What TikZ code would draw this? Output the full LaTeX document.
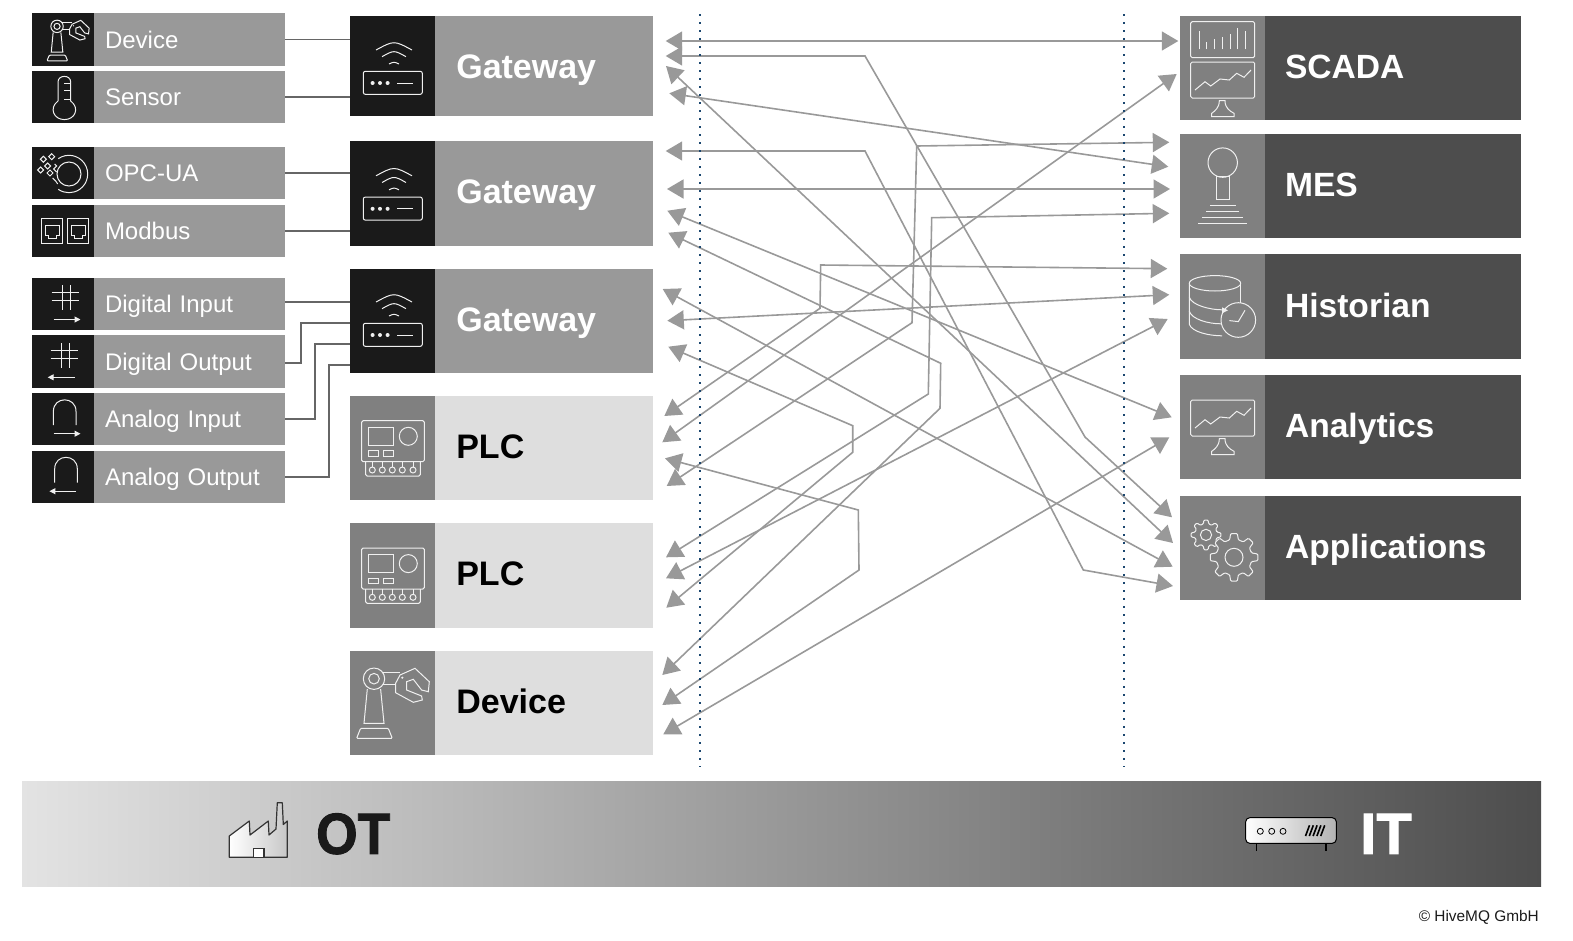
\documentclass[tikz,border=0pt]{standalone}
\usepackage{fontspec}
\setmainfont{Liberation Sans}
\newfontfamily\heavyfont[BoldFeatures={FakeBold=1.6}]{Liberation Sans}
\usetikzlibrary{positioning,arrows.meta}

\definecolor{cellblack}{HTML}{1A1A1A}
\definecolor{cellmid}{HTML}{999999}
\definecolor{celllight}{HTML}{DEDEDE}
\definecolor{celliconc}{HTML}{808080}
\definecolor{celldark}{HTML}{4D4D4D}
\definecolor{stubgray}{HTML}{666666}
\definecolor{dotblue}{HTML}{1B4770}
\definecolor{icon}{HTML}{F0F0F0}

\tikzset{
  iconcell/.style={anchor=north west,inner sep=0pt,outer sep=0pt,minimum height=#1},
  smallicon/.style={iconcell=52.4pt,fill=cellblack,minimum width=62.3pt},
  smalllabel/.style={fill=cellmid,text=white,minimum height=52.4pt,minimum width=191.3pt,
    inner xsep=11pt,inner ysep=0pt,outer sep=0pt,text width=169.3pt,text height=17pt,text depth=0pt,
    font=\fontsize{24}{28}\selectfont},
  midicon/.style={iconcell=#1,minimum width=85pt},
  midlabel/.style={minimum height=#1,minimum width=217.7pt,inner xsep=21pt,inner ysep=0pt,outer sep=0pt,
    text width=175.7pt,text height=25pt,text depth=4pt,font=\fontsize{34}{38}\selectfont\bfseries},
  itlabel/.style={fill=celldark,text=white,minimum height=#1,minimum width=256pt,inner xsep=20pt,
    inner ysep=0pt,outer sep=0pt,text width=216pt,text height=25pt,text depth=4pt,
    font=\fontsize{33.6}{38}\selectfont\bfseries},
  stub/.style={draw=stubgray,line width=1.7pt},
  link/.style={draw=cellmid,line width=1.6pt,
    {Triangle[length=16.5pt,width=19pt]}-{Triangle[length=16.5pt,width=19pt]}},
  zone/.style={draw=dotblue,line width=1.8pt,dash pattern=on 1.8pt off 6.2pt},
  iconline/.style={draw=icon,line width=1pt},
  routericon/.pic={
    \draw[iconline,rounded corners=2pt] (13,55.3) rectangle (72,78.3);
    \fill[icon] (22.3,67) circle (2) (29.7,67) circle (2) (37.3,67) circle (2);
    \draw[iconline] (47,67) -- (62.3,67);
    \draw[iconline] (25.7,34) .. controls (43.7,24.3) .. (61.7,34);
    \draw[iconline] (31.7,40.7) .. controls (43.7,34) .. (55.7,40.7);
    \draw[iconline] (38.7,48) .. controls (43.7,45.7) .. (48.7,48);
  },
  plcicon/.pic={
    \draw[iconline,rounded corners=1.5pt] (11.3,24.7) rectangle (74,65.7);
    \draw[iconline] (18.3,31.3) rectangle (43.3,49);
    \draw[iconline] (58,40.3) circle (9);
    \draw[iconline] (18.3,54.7) rectangle (28.3,60.3);
    \draw[iconline] (33,54.7) rectangle (43.3,60.3);
    \draw[iconline,rounded corners=1.5pt] (15.3,65.7) -- (15.3,80) -- (70,80) -- (70,65.7);
    \foreach \cx in {22,32,42,52,62.7} {
      \draw[iconline] (\cx,74) circle (3);
      \draw[iconline] (\cx,66) -- (\cx,71);
    }
  },
  roboticon/.pic={
    \draw[iconline] (23.7,27.7) circle (10.7);
    \draw[iconline] (23.7,27.7) circle (5.3);
    \draw[iconline] (17,38) -- (13.7,72.3) -- (33.7,72.3) -- (30.3,38);
    \draw[iconline,rounded corners=1pt] (10.3,77.3) -- (6.3,87.3) -- (42,87.3) -- (38,77.3) -- cycle;
    \draw[iconline] (31.3,21.3) -- (49.7,21.3);
    \draw[iconline] (33,33.7) -- (45.3,33.7);
    \draw[iconline] (45.3,32.3) -- (49.7,24) -- (64.7,17.3) -- (79,30.7) -- (78,40.7) -- (71.3,39)
      -- (63,28.3) -- (56.3,30.7) -- (56.3,39) -- (71.3,45) -- (72,49) -- (63,51.3) -- (45.3,41.7) -- cycle;
    \fill[icon] (52,26.7) circle (1.2);
  },
  monitoricon/.pic={
    \draw[iconline,rounded corners=1.5pt] (0,0) rectangle (64,36);
    \draw[iconline] (4.3,28) -- (14.3,19.7) -- (20,24) -- (29.3,17) -- (38.6,18) -- (46,11.3) -- (53.3,15.3) -- (60.3,8);
    \draw[iconline] (28.6,38.7) .. controls (28.6,46) and (24,49) .. (21,51.3) -- (21,54.7) -- (43.3,54.7) -- (43.3,51.3)
      .. controls (39,49) and (34.3,46) .. (34.3,38.7) -- cycle;
  },
  gearicon/.pic={
    \draw[iconline,fill=celliconc,rounded corners=1pt] (-14:18)
      \foreach \a in {0,45,...,315} { -- (\a-14:18) -- (\a-8:24) -- (\a+8:24) -- (\a+14:18) } -- cycle;
    \draw[iconline] (0,0) circle (9);
  },
  digiticon/.pic={
    \draw[iconline] (30.3,7.7) -- (30.3,32.7) (39,7.7) -- (39,32.7) (20,15.3) -- (47.7,15.3) (20,23.3) -- (47.7,23.3);
  },
  archicon/.pic={
    \draw[iconline] (21.7,32) -- (21.7,18.3) .. controls (21.7,3) and (44.3,3) .. (44.3,18.3) -- (44.3,32);
  },
  tinyarrow/.style={draw=icon,line width=1pt,-{Triangle[length=6pt,width=6pt]}},
}

\begin{document}
\begin{tikzpicture}[x=1pt,y=-1pt]
  \useasboundingbox (0,0) rectangle (1573,940);

  % field side
  \node[smallicon] (deviceicon) at (31.7,13.3) {};
  \node[smalllabel,right=0pt of deviceicon] (device) {Device};
  \node[smallicon] (sensoricon) at (31.7,71) {};
  \node[smalllabel,right=0pt of sensoricon] (sensor) {Sensor};
  \node[smallicon] (opcicon) at (31.7,147) {};
  \node[smalllabel,right=0pt of opcicon] (opc) {OPC-UA};
  \node[smallicon] (modbusicon) at (31.7,204.5) {};
  \node[smalllabel,right=0pt of modbusicon] (modbus) {Modbus};
  \node[smallicon] (diicon) at (31.7,277.5) {};
  \node[smalllabel,right=0pt of diicon] (di) {Digital Input};
  \node[smallicon] (doicon) at (31.7,335.3) {};
  \node[smalllabel,right=0pt of doicon] (do) {Digital Output};
  \node[smallicon] (aiicon) at (31.7,393) {};
  \node[smalllabel,right=0pt of aiicon] (ai) {Analog Input};
  \node[smallicon] (aoicon) at (31.7,450.5) {};
  \node[smalllabel,right=0pt of aoicon] (ao) {Analog Output};

  % gateways, PLCs and the device
  \node[midicon=100.3pt,fill=cellblack] (gwoneicon) at (350.3,16) {};
  \node[midlabel=100.3pt,fill=cellmid,text=white,text depth=0pt,right=0pt of gwoneicon] (gwone) {Gateway};
  \node[midicon=104.3pt,fill=cellblack] (gwtwoicon) at (350.3,141.3) {};
  \node[midlabel=104.3pt,fill=cellmid,text=white,right=0pt of gwtwoicon] (gwtwo) {Gateway};
  \node[midicon=104.3pt,fill=cellblack] (gwthreeicon) at (350.3,268.7) {};
  \node[midlabel=104.3pt,fill=cellmid,text=white,right=0pt of gwthreeicon] (gwthree) {Gateway};
  \node[midicon=104.3pt,fill=celliconc] (plconeicon) at (350.3,396) {};
  \node[midlabel=104.3pt,fill=celllight,text=black,right=0pt of plconeicon] (plcone) {PLC};
  \node[midicon=104.3pt,fill=celliconc] (plctwoicon) at (350.3,523.3) {};
  \node[midlabel=104.3pt,fill=celllight,text=black,right=0pt of plctwoicon] (plctwo) {PLC};
  \node[midicon=104pt,fill=celliconc] (roboticon) at (350.3,651) {};
  \node[midlabel=104pt,fill=celllight,text=black,right=0pt of roboticon] (robot) {Device};

  % enterprise side
  \node[midicon=104.3pt,fill=celliconc] (scadaicon) at (1180,16) {};
  \node[itlabel=104.3pt,right=0pt of scadaicon] (scada) {SCADA};
  \node[midicon=104pt,fill=celliconc] (mesicon) at (1180,134.3) {};
  \node[itlabel=104pt,right=0pt of mesicon] (mes) {MES};
  \node[midicon=104.6pt,fill=celliconc] (histicon) at (1180,254.3) {};
  \node[itlabel=104.6pt,right=0pt of histicon] (hist) {Historian};
  \node[midicon=104.3pt,fill=celliconc] (analyticsicon) at (1180,375) {};
  \node[itlabel=104.3pt,right=0pt of analyticsicon] (analytics) {Analytics};
  \node[midicon=104pt,fill=celliconc] (appsicon) at (1180,496.3) {};
  \node[itlabel=104pt,right=0pt of appsicon] (apps) {Applications};

  % small icons
  \pic[scale=.58] at (43.3,10.3) {roboticon};
  \begin{scope}[shift={(31.7,71)}]
    \draw[iconline] (26.3,30) -- (26.3,11) .. controls (26.3,3.5) and (39,3.5) .. (39,11) -- (39,30);
    \draw[iconline] (26.3,30) .. controls (17,37) and (22,48.6) .. (32.7,48.6) .. controls (43.4,48.6) and (48.4,37) .. (39,30);
    \draw[iconline] (32.3,12.3) -- (39,12.3) (32.3,19.7) -- (39,19.7) (32.3,28) -- (39,28);
  \end{scope}
  \begin{scope}[shift={(31.7,147)}]
    \draw[iconline] (37.3,27) circle (12);
    \draw[iconline] (37.3,27) ++(-125:18.7) arc (-125:125:18.7);
    \foreach \dx/\dy in {20/9.7,11.7/12.3,16/19,9/23,18.3/26} {
      \draw[iconline] (\dx-3,\dy) -- (\dx,\dy-3) -- (\dx+3,\dy) -- (\dx,\dy+3) -- cycle;
    }
    \draw[iconline] (23,17) -- (25,19) -- (22,22) -- (25,25) (21,31) -- (24,34) -- (26,37);
  \end{scope}
  \begin{scope}[shift={(31.7,204.5)}]
    \foreach \bx in {0,26} {
      \draw[iconline] (10+\bx,13.7) rectangle (31+\bx,38.7);
      \draw[iconline] (13.3+\bx,21.3) -- (27.3+\bx,21.3) -- (27.3+\bx,31) -- (24.3+\bx,31) -- (24.3+\bx,33.7)
        -- (16.7+\bx,33.7) -- (16.7+\bx,31) -- (13.3+\bx,31) -- cycle;
    }
  \end{scope}
  \pic at (31.7,277.5) {digiticon};
  \coordinate (diarrowa) at (53.7,319.5); \coordinate (diarrowb) at (80.5,319.5);
  \draw[tinyarrow] (diarrowa) -- (diarrowb);
  \pic at (30.7,335.3) {digiticon};
  \coordinate (doarrowa) at (75,377.3); \coordinate (doarrowb) at (47.7,377.3);
  \draw[tinyarrow] (doarrowa) -- (doarrowb);
  \pic at (31.7,393) {archicon};
  \coordinate (aiarrowa) at (53.7,433.7); \coordinate (aiarrowb) at (80.5,433.7);
  \draw[tinyarrow] (aiarrowa) -- (aiarrowb);
  \pic at (33,450.5) {archicon};
  \coordinate (aoarrowa) at (76,491.2); \coordinate (aoarrowb) at (49.4,491.2);
  \draw[tinyarrow] (aoarrowa) -- (aoarrowb);

  % icons of the big cells
  \pic at (350.3,16) {routericon};
  \pic at (350.3,141.8) {routericon};
  \pic at (350.3,268) {routericon};
  \pic at (350.3,396) {plcicon};
  \pic at (350.3,523.3) {plcicon};
  \pic at (350.3,651) {roboticon};
  \begin{scope}[shift={(1180,16)}]
    \draw[iconline,rounded corners=1.5pt] (10.7,5.7) rectangle (74.7,41.7);
    \foreach \bx/\by in {19.3/14.7,26.7/25.7,34.3/23.3,42.3/20.7,50.7/18.3,57.7/12.3,65.7/14.7} {
      \draw[iconline] (\bx,33.3) -- (\bx,\by);
    }
  \end{scope}
  \pic at (1190.7,62) {monitoricon};
  \begin{scope}[shift={(1180,134.3)}]
    \draw[iconline] (42.7,28.3) circle (14.7);
    \draw[iconline] (36.7,42.3) rectangle (49,65);
    \draw[iconline] (30,71.3) -- (55.7,71.3) (26,77) -- (59.3,77) (22.3,83) -- (63.3,83) (18.3,89.3) -- (67.3,89.3);
  \end{scope}
  \begin{scope}[shift={(1180,254.3)}]
    \draw[iconline] (35,29) circle [x radius=25.7,y radius=7.7];
    \draw[iconline] (9.3,29) -- (9.3,70) .. controls (12,78) and (30,81.5) .. (42,81.5);
    \draw[iconline] (60.7,29) -- (60.7,49);
    \draw[iconline] (9.3,43) .. controls (12,51) and (30,55.5) .. (42,55.5);
    \draw[iconline] (9.3,57) .. controls (12,65) and (28,69.5) .. (41,69.5);
    \fill[icon] (48,56) -- (42,53) -- (42,59) -- cycle;
    \draw[iconline] (58.3,65.7) circle (17.3);
    \draw[iconline] (49.3,66.3) -- (58.3,67.3) -- (65,56);
  \end{scope}
  \pic at (1190.7,400) {monitoricon};
  \pic[scale=.625] at (1206,534.9) {gearicon};
  \pic at (1234,557.3) {gearicon};

  % connectors of the field side
  \coordinate (gwportdi) at (350.3,302);
  \coordinate (gwportdo) at (350.3,322.7);
  \coordinate (gwportai) at (350.3,344.3);
  \coordinate (gwportao) at (350.3,365);
  \coordinate (dioutlet) at (285.3,302);
  \coordinate (dooutlet) at (285.3,363.3);
  \draw[stub] (device.east) -- (device.east -| gwoneicon.west);
  \draw[stub] (sensor.east) -- (sensor.east -| gwoneicon.west);
  \draw[stub] (opc.east) -- (opc.east -| gwtwoicon.west);
  \draw[stub] (modbus.east) -- (modbus.east -| gwtwoicon.west);
  \draw[stub] (dioutlet) -- (gwportdi);
  \draw[stub] (dooutlet) -- (301.3,363.3) -- (301.3,322.7) -- (gwportdo);
  \draw[stub] (ai.east) -- (315.3,419.2) -- (315.3,344.3) -- (gwportai);
  \draw[stub] (ao.east) -- (329.3,476.7) -- (329.3,365) -- (gwportao);

  % arrow ends, left
  \coordinate (gwonea) at (665.7,41); \coordinate (gwoneb) at (665.7,56);
  \coordinate (gwonec) at (666,66); \coordinate (gwoned) at (669.3,93.3);
  \coordinate (gwtwoa) at (665.7,151); \coordinate (gwtwob) at (667,189);
  \coordinate (gwtwoc) at (667.3,210.7); \coordinate (gwtwod) at (668.3,232.7);
  \coordinate (gwthreea) at (662.7,289); \coordinate (gwthreeb) at (667.3,320.7);
  \coordinate (gwthreec) at (668.3,346.7);
  \coordinate (plconea) at (664.3,416); \coordinate (plconeb) at (662.3,442.3);
  \coordinate (plconec) at (665,458.3); \coordinate (plconed) at (666.7,486);
  \coordinate (plctwoa) at (666,557.3); \coordinate (plctwob) at (666,578.3);
  \coordinate (plctwoc) at (666.3,607.7);
  \coordinate (robota) at (662.3,675); \coordinate (robotb) at (662.3,705);
  \coordinate (robotc) at (663.3,734.3);
  % arrow ends, right
  \coordinate (scadaa) at (1178.3,41); \coordinate (scadab) at (1176.7,74);
  \coordinate (mesa) at (1169.3,142.3); \coordinate (mesb) at (1168.3,166.7);
  \coordinate (mesc) at (1170,189); \coordinate (mesd) at (1169.3,213.3);
  \coordinate (hista) at (1167.3,268.7); \coordinate (histb) at (1169.3,294.7);
  \coordinate (histc) at (1167.7,319);
  \coordinate (analyticsa) at (1171.7,417.3); \coordinate (analyticsb) at (1169.3,437.3);
  \coordinate (appsa) at (1172,517.3); \coordinate (appsb) at (1173,543);
  \coordinate (appsc) at (1172.7,566.7); \coordinate (appsd) at (1173,586);

  % the mesh
  \draw[link] (gwonea) -- (scadaa);
  \draw[link] (gwoneb) -- (865,56) -- (1085,437) -- (appsa);
  \draw[link] (gwonec) -- (appsb);
  \draw[link] (gwoned) -- (mesb);
  \draw[link] (gwtwoa) -- (865,151) -- (1083.3,570) -- (appsd);
  \draw[link] (gwtwob) -- (mesc);
  \draw[link] (gwtwoc) -- (analyticsa);
  \draw[link] (gwtwod) -- (940.7,363.3) -- (940,408.3) -- (robota);
  \draw[link] (gwthreea) -- (appsc);
  \draw[link] (gwthreeb) -- (histb);
  \draw[link] (gwthreec) -- (852.7,425.7) -- (852.7,452.3) -- (plctwoc);
  \draw[link] (plconea) -- (820,308.3) -- (820.7,265) -- (hista);
  \draw[link] (plconeb) -- (scadab);
  \draw[link] (plconec) -- (858.3,510) -- (859,570) -- (robotb);
  \draw[link] (plconed) -- (912,322.7) -- (916.7,146) -- (mesa);
  \draw[link] (plctwoa) -- (928.3,394) -- (931.7,217.7) -- (mesd);
  \draw[link] (plctwob) -- (histc);
  \draw[link] (robotc) -- (analyticsb);

  % zone borders
  \coordinate (otborderup) at (700.3,14); \coordinate (otborderdown) at (700.3,767);
  \coordinate (itborderup) at (1124.3,14); \coordinate (itborderdown) at (1124.3,767);
  \draw[zone] (otborderup) -- (otborderdown);
  \draw[zone] (itborderup) -- (itborderdown);

  % bar at the bottom
  \node[anchor=north west,inner sep=0pt,minimum width=1519pt,minimum height=105pt,
    left color=black!11,right color=celldark] (otitbar) at (22,781) {};
  \draw[left color=white,right color=black!22,draw=black!80,line width=1.2pt,line join=round]
    (229.3,857.3) -- (229.3,836) -- (249.3,821) -- (250,835) -- (268.3,821) -- (269,835)
    -- (276,829) -- (277.3,802.7) -- (282.3,802.7) -- (283.3,824.5) -- (287.3,821) -- (287.3,857.3) -- cycle;
  \draw[fill=white,draw=black!80,line width=1.2pt] (253.3,857.3) -- (253.3,848.7) -- (264,848.7) -- (264,857.3);
  \node[anchor=base west,inner sep=0pt,xscale=.92,text=cellblack,font=\fontsize{58}{60}\heavyfont\bfseries]
    (otlabel) at (316,853.8) {OT};
  \draw[black,line width=1.3pt] (1256.7,843) -- (1256.7,851) (1326,843) -- (1326,851);
  \draw[left color=white,right color=black!30,draw=black,line width=1pt,rounded corners=4pt]
    (1245.7,817.7) rectangle (1336.3,843.3);
  \foreach \cx in {1260.3,1271.7,1283} { \draw[black,line width=.8pt] (\cx,831.3) circle (3); }
  \foreach \sx in {0,3.8,7.6,11.4,15.2} { \draw[black,line width=1.6pt] (1309.5+\sx,825.3) -- (1305.5+\sx,836); }
  \node[anchor=base west,inner sep=0pt,text=white,font=\fontsize{58}{60}\heavyfont\bfseries]
    (itlabel) at (1360,853.8) {IT};
  \node[anchor=base east,inner sep=0pt,text=cellblack,font=\fontsize{15.4}{18}\selectfont]
    (copyright) at (1539,921.6) {© HiveMQ GmbH};
\end{tikzpicture}
\end{document}
